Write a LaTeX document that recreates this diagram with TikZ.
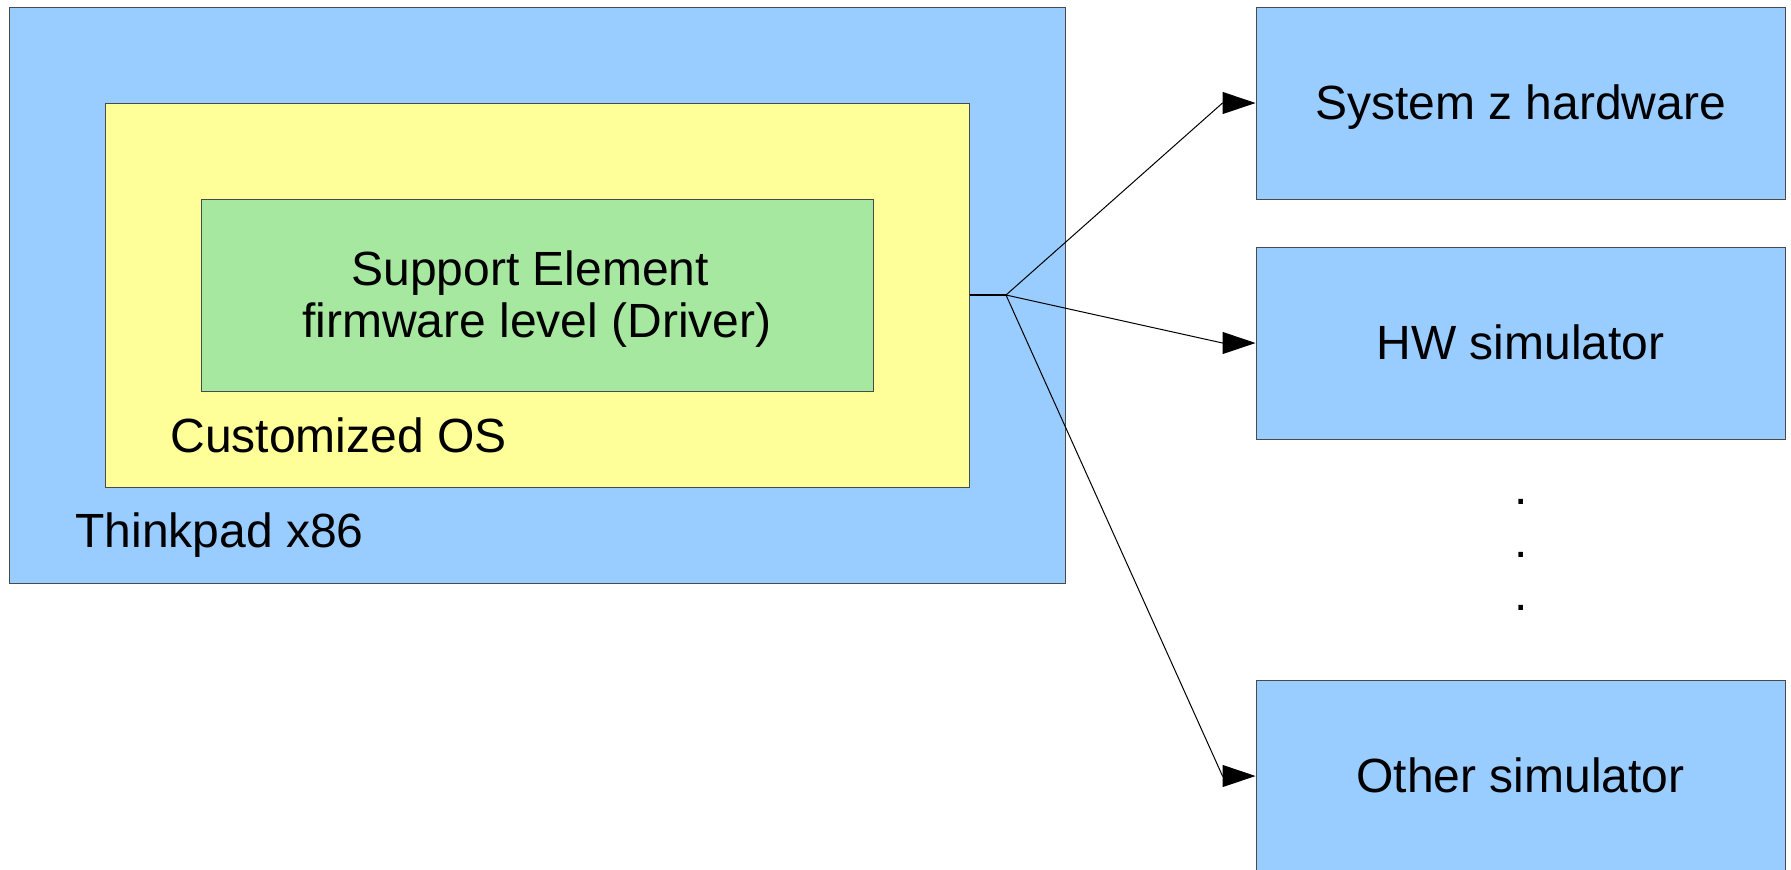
\documentclass[tikz,border=0pt]{standalone}
\usepackage{fontspec}
\setmainfont{Liberation Sans}
\usetikzlibrary{arrows.meta}
\definecolor{boxblue}{HTML}{99CCFF}
\definecolor{boxyellow}{HTML}{FFFF99}
\definecolor{boxgreen}{HTML}{A7E8A0}
\definecolor{edgegray}{HTML}{4A4A4A}
\tikzset{
  box/.style={draw=edgegray, line width=0.5pt, inner sep=0pt},
  boxtxt/.style={box, text height=16.5pt, text depth=0pt,
                 font=\fontsize{24}{26}\selectfont},
  txt/.style={inner sep=0pt, align=center, font=\fontsize{24}{26}\selectfont},
  lbl/.style={inner sep=0pt, anchor=base west, font=\fontsize{24}{26}\selectfont},
  dotlbl/.style={inner sep=0pt, anchor=base, font=\fontsize{24}{26}\selectfont},
  conn/.style={line width=0.5pt, -{Triangle[length=16.5pt,width=11pt]}},
}
\begin{document}
\begin{tikzpicture}[x=0.5pt, y=-0.5pt]
  \useasboundingbox (0,0) rectangle (1791,869);
  \clip (0,0) rectangle (1791,869);
  \node[box, fill=boxblue, minimum width=528pt, minimum height=288pt] (outer) at (537,295) {};
  \node[box, fill=boxyellow, minimum width=432pt, minimum height=192pt] (os) at (537,295) {};
  \node[box, fill=boxgreen, minimum width=336pt, minimum height=96pt] (se) at (537,295) {};
  \node[txt] (setxt) at (537,299.5) {Support Element\hspace*{0.278em}\\firmware level (Driver)};
  \node[lbl] (oslbl) at (170,452) {Customized OS};
  \node[lbl] (tplbl) at (75,547) {Thinkpad x86};
  \node[boxtxt, fill=boxblue, minimum width=264.5pt, minimum height=96pt] (hw) at (1520.5,103) {System z hardware};
  \node[boxtxt, fill=boxblue, minimum width=264.5pt, minimum height=96pt] (sim) at (1520.5,343) {HW simulator};
  \node[boxtxt, fill=boxblue, minimum width=264.5pt, minimum height=96pt] (other) at (1520.5,776) {Other simulator};
  \node[dotlbl] (d1) at (1521,504) {.};
  \node[dotlbl] (d2) at (1521,557) {.};
  \node[dotlbl] (d3) at (1521,610) {.};
  \coordinate (j) at (1006,295);
  \draw[line width=1pt] (os.east) -- (j);
  \draw[conn] (j) -- ([xshift=-16.5pt]hw.west) -- (hw.west);
  \draw[conn] (j) -- ([xshift=-16.5pt]sim.west) -- (sim.west);
  \draw[conn] (j) -- ([xshift=-16.5pt]other.west) -- (other.west);
\end{tikzpicture}
\end{document}
